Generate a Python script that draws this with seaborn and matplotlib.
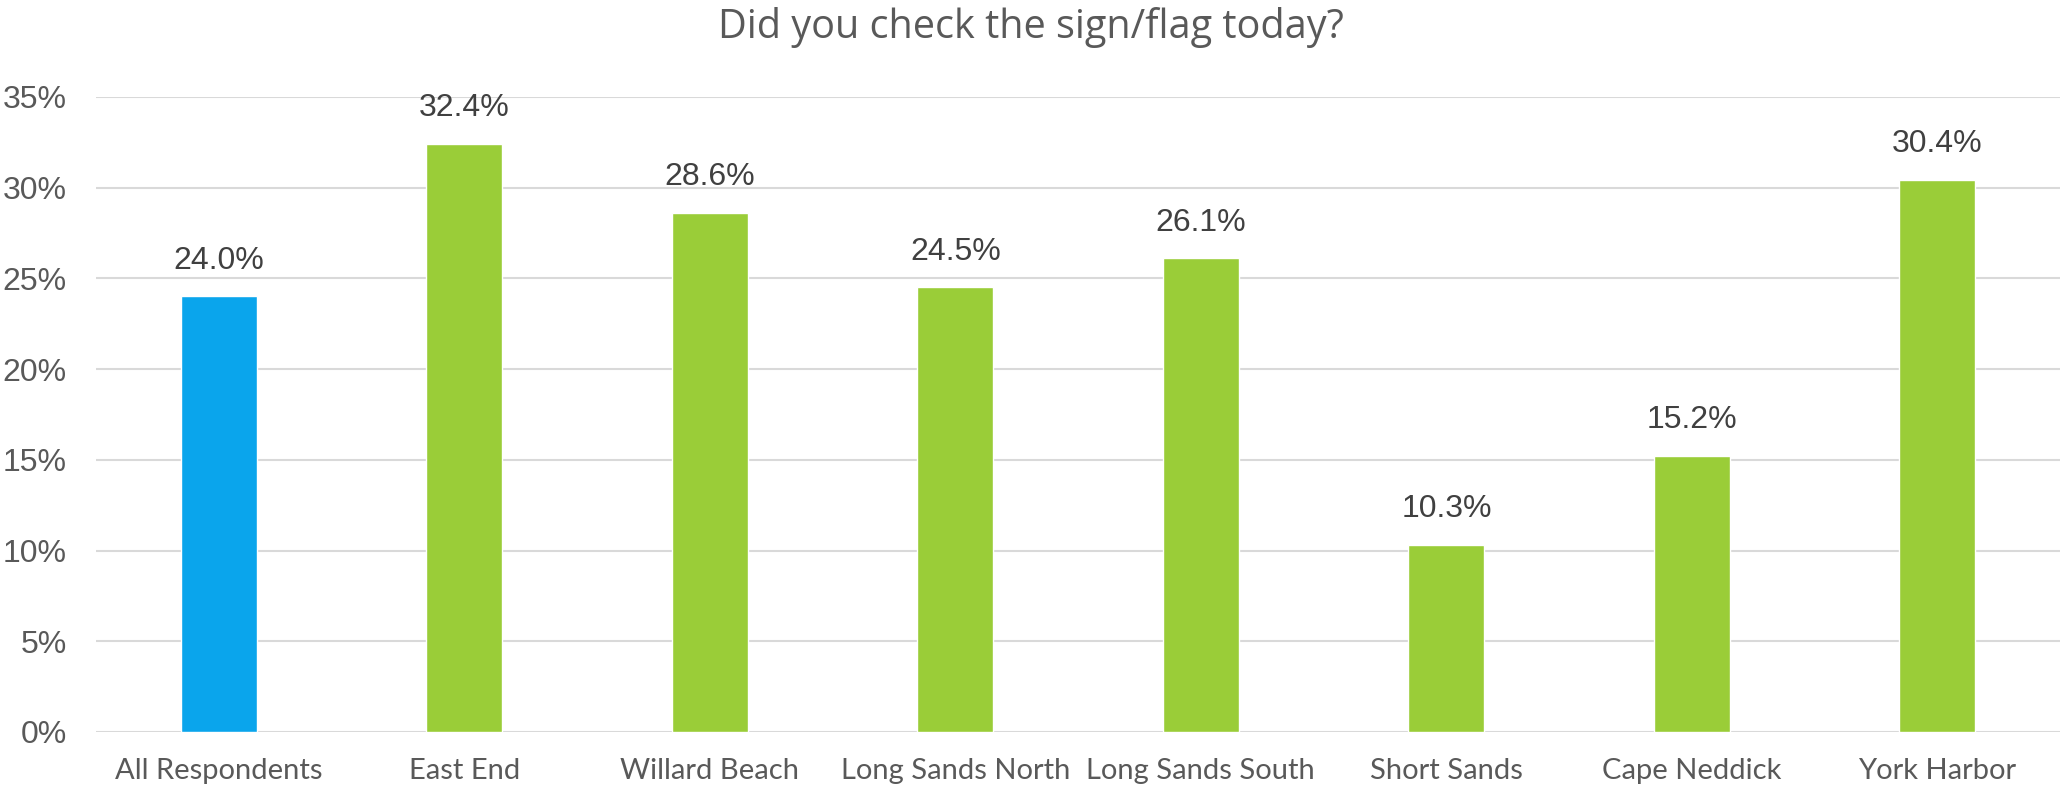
import matplotlib
matplotlib.use("Agg")
import matplotlib.pyplot as plt
import seaborn as sns
import pandas as pd

categories = ["All Respondents", "East End", "Willard Beach", "Long Sands North",
              "Long Sands South", "Short Sands", "Cape Neddick", "York Harbor"]
values = [24.0, 32.4, 28.6, 24.5, 26.1, 10.3, 15.2, 30.4]
colors = ["#0AA5EC", "#9ACD38", "#9ACD38", "#9ACD38",
          "#9ACD38", "#9ACD38", "#9ACD38", "#9ACD38"]
yticks = [0, 5, 10, 15, 20, 25, 30, 35]

df = pd.DataFrame({"cat": categories, "val": values})

sns.set_theme(style="white")
plt.rcParams["font.family"] = ["Liberation Sans", "DejaVu Sans"]

fig = plt.figure(figsize=(20.61, 7.88), dpi=100)
ax = fig.add_axes([0.0466, 0.0711, 0.953, 0.806])

sns.barplot(data=df, x="cat", y="val", hue="cat", palette=colors,
            width=0.31, legend=False, ax=ax, saturation=1)

ax.set_ylim(0, 35)
ax.set_yticks(yticks)
ax.set_yticklabels([f"{t}%" for t in yticks], fontsize=23, color="#595959")
ax.grid(axis="y", color="#D9D9D9", linewidth=1.5)
ax.set_axisbelow(True)
for s in ax.spines.values():
    s.set_visible(False)
ax.tick_params(axis="y", length=0, pad=21)
ax.tick_params(axis="x", length=0, pad=19)
ax.set_xlabel("")
ax.set_ylabel("")
ax.set_xlim(-0.5, len(categories) - 0.5)
ax.set_xticks(range(len(categories)))
ax.set_xticklabels(categories, fontsize=21, color="#595959", family=["Lato", "DejaVu Sans"])

for i, v in enumerate(values):
    ax.annotate(f"{v:.1f}%", (i, v), xytext=(0, 15), textcoords="offset points",
                ha="center", va="bottom", fontsize=23, color="#404040")

fig.text(0.5, 0.965, "Did you check the sign/flag today?", ha="center", va="center",
         fontsize=28.5, color="#595959", family=["Open Sans", "DejaVu Sans"])

fig.savefig("out.png", dpi=100)
